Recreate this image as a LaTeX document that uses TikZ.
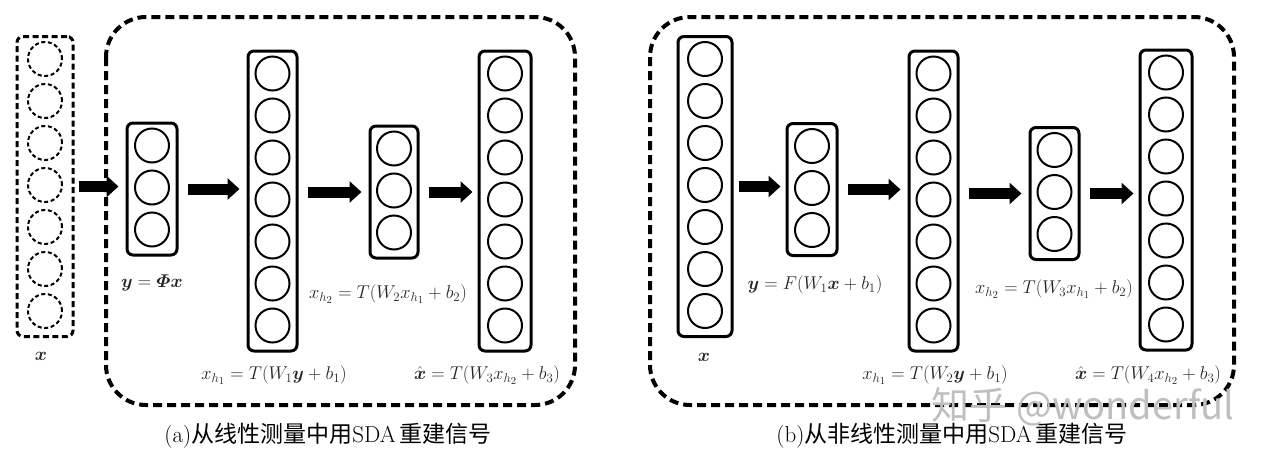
\documentclass[tikz,border=0pt]{standalone}
\usepackage{amsmath,amssymb}
\usepackage{fontspec}
\newfontfamily\cjk{Noto Sans CJK SC}
\usetikzlibrary{arrows.meta,positioning,calc}

% one layer: name, x, y, width, units, box style, unit style
\newcommand{\nnlayer}[7]{%
  \node[lay,#6,minimum width=#4pt,minimum height={48pt+42pt*(#5-1)}] (#1) at (#2,#3) {};
  \foreach \k in {1,...,#5}
    \node[unit,#7] (#1-\k) at ($(#1.north)+(0,{24+42*(\k-1)})$) {};
}
\newcommand{\eqlbl}[1]{\scalebox{1.07}{$#1$}}

\begin{document}
\begin{tikzpicture}[x=1pt,y=-1pt,lay/.style={draw,line width=3pt,rounded corners=6pt,inner sep=0pt},unit/.style={draw,circle,line width=2pt,minimum size=34pt,inner sep=0pt},dlay/.style={dash pattern=on 6pt off 3.5pt},dunit/.style={dash pattern=on 4pt off 2.6pt},grp/.style={line width=4pt,dash pattern=on 9pt off 5pt,rounded corners=40pt},arr/.style={line width=11pt,-{Triangle[length=12pt,width=21pt]},shorten <=9pt,shorten >=7pt},eq/.style={font=\LARGE,text=black!85,inner sep=0pt},captxt/.style={font=\fontsize{23}{27}\selectfont,inner sep=0pt},wm/.style={font=\cjk\fontsize{38}{40}\selectfont,text=black!25,inner sep=0pt,text height=28pt,text depth=0pt}]
\useasboundingbox (0,0) rectangle (1263,458);

% (a) linear measurement
\draw[grp] (106,17) rectangle (575,405);
\nnlayer{ia}{45}{186.5}{56}{7}{dlay}{dunit}
\nnlayer{ya}{152}{189}{50}{3}{}{}
\nnlayer{h1a}{272.5}{201}{49}{7}{}{}
\nnlayer{h2a}{394}{192}{48}{3}{}{}
\nnlayer{oa}{505}{201}{52}{7}{}{}
\draw[arr,shorten <=4pt] (ia.east) -- (ia.east -| ya.west);
\draw[arr] (ya.east) -- (ya.east -| h1a.west);
\draw[arr] (h1a.east |- h2a.west) -- (h2a.west);
\draw[arr,shorten >=5pt] (h2a.east) -- (h2a.east -| oa.west);
\node[eq] (lxa) at (41,356) {\eqlbl{\boldsymbol{x}}};
\node[eq] (lya) at (152,283) {\eqlbl{\boldsymbol{y}=\boldsymbol{\varPhi x}}};
\node[eq] (l1a) at (274,375) {\eqlbl{x_{h_1}=T(W_1\boldsymbol{y}+b_1)}};
\node[eq] (l2a) at (388,294) {\eqlbl{x_{h_2}=T(W_2x_{h_1}+b_2)}};
\node[eq] (l3a) at (487,375) {\eqlbl{\hat{\boldsymbol{x}}=T(W_3x_{h_2}+b_3)}};
\node[captxt] (capa) at (328,436) {(a){\cjk 从线性测量中用}SDA\,{\cjk 重建信号}};

% (b) nonlinear measurement
\draw[grp] (650,17) rectangle (1234,405);
\nnlayer{ib}{705}{186.5}{54}{7}{}{}
\nnlayer{yb}{812}{189.5}{50}{3}{}{}
\nnlayer{h1b}{933.5}{201}{49}{7}{}{}
\nnlayer{h2b}{1054.5}{193.5}{49}{3}{}{}
\nnlayer{ob}{1166}{200}{52}{7}{}{}
\draw[arr,shorten <=5pt,shorten >=5pt] (ib.east) -- (ib.east -| yb.west);
\draw[arr] (yb.east) -- (yb.east -| h1b.west);
\draw[arr] (h1b.east |- h2b.west) -- (h2b.west);
\draw[arr,shorten >=5pt] (h2b.east) -- (h2b.east -| ob.west);
\node[eq] (lxb) at (704,357) {\eqlbl{\boldsymbol{x}}};
\node[eq] (lyb) at (815,285) {\eqlbl{\boldsymbol{y}=F(W_1\boldsymbol{x}+b_1)}};
\node[eq] (l1b) at (935,375) {\eqlbl{x_{h_1}=T(W_2\boldsymbol{y}+b_1)}};
\node[eq] (l2b) at (1054,289) {\eqlbl{x_{h_2}=T(W_3x_{h_1}+b_2)}};
\node[eq] (l3b) at (1148,375) {\eqlbl{\hat{\boldsymbol{x}}=T(W_4x_{h_2}+b_3)}};
\node[captxt] (capb) at (952,436) {(b){\cjk 从非线性测量中用}SDA\,{\cjk 重建信号}};

\node[wm] (mark) at (1083,405) {知乎 @wonderful};
\end{tikzpicture}
\end{document}
